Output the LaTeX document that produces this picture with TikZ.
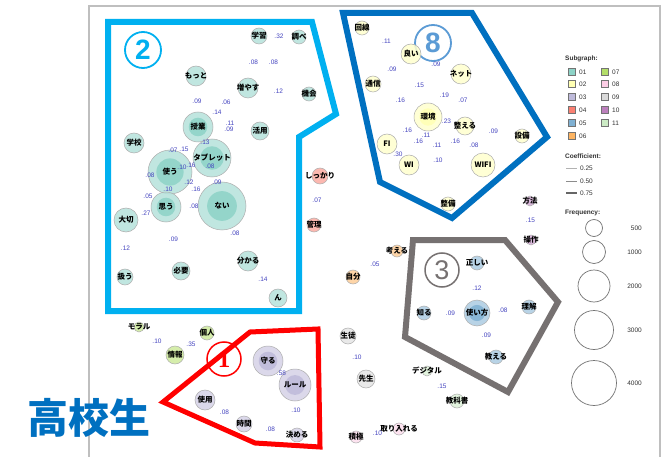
\documentclass[tikz,border=0pt]{standalone}
\usepackage{fontspec}
\setmainfont{Liberation Sans}
\newfontfamily\jp{Noto Sans CJK JP}
\newfontfamily\numserif{Liberation Serif}
\usetikzlibrary{backgrounds}
\definecolor{c01}{HTML}{8DD3C7}
\definecolor{c02}{HTML}{FFFFB3}
\definecolor{c03}{HTML}{BEBADA}
\definecolor{c04}{HTML}{FB8072}
\definecolor{c05}{HTML}{80B1D3}
\definecolor{c06}{HTML}{FDB462}
\definecolor{c07}{HTML}{B3DE69}
\definecolor{c08}{HTML}{FCCDE5}
\definecolor{c09}{HTML}{D9D9D9}
\definecolor{c10}{HTML}{BC80BD}
\definecolor{c11}{HTML}{CCEBC5}
\definecolor{elc}{HTML}{4646C0}
\definecolor{gTwo}{HTML}{00B0F0}
\definecolor{gEight}{HTML}{0070C0}
\definecolor{gEightN}{HTML}{5B9BD5}
\definecolor{gThree}{HTML}{767171}
\definecolor{gOne}{HTML}{FF0000}
\definecolor{kblue}{HTML}{0070C0}
\newcommand\lblfont{\jp\bfseries\fontsize{7.5}{8}\selectfont}
\newcommand\elfont{\fontsize{6.5}{7}\selectfont}
\newcommand\lgfont{\fontsize{6.5}{7}\selectfont}
\newcommand\edg[4][0.5]{%
  \begin{pgfonlayer}{background}\draw[edgeline] (#2.center) -- (#3.center);\end{pgfonlayer}%
  \path (#2.center) -- node[el, pos=#1]{#4} (#3.center);}
\tikzset{
  nd/.style={circle, draw=black!32, line width=0.5pt, fill=#1!65!white, fill opacity=0.85, inner sep=0pt, outer sep=0pt},
  core/.style={path picture={\fill[#1] (path picture bounding box.center) circle (0.62*\pgfkeysvalueof{/pgf/minimum width}/2);}},
  every label/.style={font=\lblfont, text=black, inner sep=0pt, fill opacity=1, text opacity=1},
  el/.style={font=\elfont, text=elc, inner sep=0.3pt},
  edgeline/.style={draw=black!20, line width=0.8pt},
  grp/.style={line width=6pt, line join=miter, draw=#1},
  num/.style={circle, draw=#1, text=#1, line width=1.8pt, inner sep=0pt},
  sw/.style={rectangle, draw=black!55, line width=0.5pt, fill=#1, minimum size=7pt, inner sep=0pt},
  lg/.style={font=\lgfont, text=black!80, anchor=west, inner sep=0pt},
  fq/.style={circle, draw=black!55, line width=0.7pt, inner sep=0pt},
}
\begin{document}
\begin{tikzpicture}[x=1pt,y=-1pt]
\useasboundingbox (0,0) rectangle (669,457);
\clip (0,0) rectangle (669,457);
\fill[white] (0,0) rectangle (669,457);
% frame
\draw[draw=black!25, line width=1.3pt] (89,6) rectangle (660,475);

% group polygons
\draw[grp=gTwo] (108,22) -- (312,22) -- (336,114) -- (299,137) -- (299,311) -- (108,311) -- cycle;
\draw[grp=gEight] (343,13) -- (472,13) -- (547,137) -- (452,218) -- (380,182) -- cycle;
\draw[grp=gThree] (413,240) -- (505,240) -- (558,302) -- (508,392) -- (405,337) -- cycle;
\draw[grp=gOne, line width=5pt] (250,332) -- (318,329) -- (320,447) -- (255,443) -- (163,402) -- cycle;

% circled numbers
\node[num=gTwo, minimum size=36pt, font=\bfseries\fontsize{28}{28}\selectfont] (numTwo) at (143,50) {2};
\node[num=gEightN, minimum size=36pt, font=\bfseries\fontsize{28}{28}\selectfont] (numEight) at (433,43) {8};
\node[num=gThree, minimum size=34pt, line width=1.5pt, font=\fontsize{27}{27}\selectfont] (numThree) at (442,270) {3};
\node[num=gOne, minimum size=34pt, line width=1.5pt, font=\numserif\bfseries\fontsize{25}{25}\selectfont] (numOne) at (224,359) {1};

% subgraph 01
\node[nd=c01, minimum size=16pt, label={center:学習}] (gakushu) at (259,36) {};
\node[nd=c01, minimum size=14pt, label={center:調べ}] (shirabe) at (299,37) {};
\node[nd=c01, minimum size=20pt, label={center:増やす}] (fuyasu) at (248,88) {};
\node[nd=c01, minimum size=14pt, label={center:機会}] (kikai) at (309,94) {};
\node[nd=c01, minimum size=20pt, label={center:もっと}] (motto) at (196,76) {};
\node[nd=c01, minimum size=30pt, core=c01, label={center:授業}] (jugyo) at (198,127) {};
\node[nd=c01, minimum size=18pt, label={center:活用}] (katsuyo) at (260,131) {};
\node[nd=c01, minimum size=20pt, label={center:学校}] (gakko) at (134,143) {};
\node[nd=c01, minimum size=38pt, core=c01, label={center:タブレット}] (tablet) at (212,158) {};
\node[nd=c01, minimum size=44pt, core=c01, label={center:使う}] (tsukau) at (170,172) {};
\node[nd=c01, minimum size=30pt, core=c01, label={center:思う}] (omou) at (166,207) {};
\node[nd=c01, minimum size=48pt, core=c01, label={center:ない}] (nai) at (222,206) {};
\node[nd=c01, minimum size=24pt, label={center:大切}] (taisetsu) at (126,220) {};
\node[nd=c01, minimum size=16pt, label={center:扱う}] (atsukau) at (125,277) {};
\node[nd=c01, minimum size=18pt, label={center:必要}] (hitsuyo) at (181,271) {};
\node[nd=c01, minimum size=20pt, label={center:分かる}] (wakaru) at (248,261) {};
\node[nd=c01, minimum size=18pt, label={center:ん}] (nn) at (278,298) {};

% subgraph 02
\node[nd=c02, minimum size=14pt, label={center:回線}] (kaisen) at (362,28) {};
\node[nd=c02, minimum size=20pt, label={center:良い}] (yoi) at (411,54) {};
\node[nd=c02, minimum size=16pt, label={center:通信}] (tsushin) at (373,84) {};
\node[nd=c02, minimum size=20pt, label={center:ネット}] (net) at (461,74) {};
\node[nd=c02, minimum size=28pt, core=c02, label={center:環境}] (kankyo) at (428,117) {};
\node[nd=c02, minimum size=18pt, label={center:整える}] (totonoeru) at (465,126) {};
\node[nd=c02, minimum size=14pt, label={center:設備}] (setsubi) at (522,136) {};
\node[nd=c02, minimum size=20pt, label={center:FI}] (fi) at (387,144) {};
\node[nd=c02, minimum size=20pt, label={center:WI}] (wi) at (409,165) {};
\node[nd=c02, minimum size=24pt, label={center:WIFI}] (wifi) at (483,165) {};
\node[nd=c02, minimum size=14pt, label={center:整備}] (seibi) at (448,204) {};

% subgraph 05
\node[nd=c05, minimum size=14pt, label={center:正しい}] (tadashii) at (477,263) {};
\node[nd=c05, minimum size=26pt, core=c05, label={center:使い方}] (tsukaikata) at (477,313) {};
\node[nd=c05, minimum size=14pt, label={center:知る}] (shiru) at (424,313) {};
\node[nd=c05, minimum size=14pt, label={center:理解}] (rikai) at (529,307) {};
\node[nd=c05, minimum size=14pt, label={center:教える}] (oshieru) at (496,357) {};

% small groups
\node[nd=c10, minimum size=10pt, label={center:方法}] (hoho) at (530,201) {};
\node[nd=c10, minimum size=10pt, label={center:操作}] (sosa) at (531,240) {};
\node[nd=c11, minimum size=10pt, label={center:デジタル}] (digital) at (427,371) {};
\node[nd=c11, minimum size=14pt, label={center:教科書}] (kyokasho) at (457,401) {};
\node[nd=c04, minimum size=16pt, label={center:しっかり}] (shikkari) at (320,176) {};
\node[nd=c04, minimum size=14pt, label={center:管理}] (kanri) at (314,225) {};
\node[nd=c06, minimum size=12pt, label={center:考える}] (kangaeru) at (397,251) {};
\node[nd=c06, minimum size=14pt, label={center:自分}] (jibun) at (353,277) {};
\node[nd=c09, minimum size=16pt, label={center:生徒}] (seito) at (348,336) {};
\node[nd=c09, minimum size=18pt, label={center:先生}] (sensei) at (366,379) {};
\node[nd=c08, minimum size=12pt, label={center:取り入れる}] (toriireru) at (399,429) {};
\node[nd=c08, minimum size=12pt, label={center:積極}] (sekkyoku) at (356,437) {};
\node[nd=c07, minimum size=10pt, label={center:モラル}] (moral) at (139,327) {};
\node[nd=c07, minimum size=14pt, label={center:個人}] (kojin) at (207,333) {};
\node[nd=c07, minimum size=18pt, label={center:情報}] (joho) at (175,355) {};

% subgraph 03
\node[nd=c03, minimum size=30pt, core=c03, label={center:守る}] (mamoru) at (268,361) {};
\node[nd=c03, minimum size=32pt, core=c03, label={center:ルール}] (rule) at (295,385) {};
\node[nd=c03, minimum size=20pt, label={center:使用}] (shiyo) at (205,400) {};
\node[nd=c03, minimum size=16pt, label={center:時間}] (jikan) at (244,424) {};
\node[nd=c03, minimum size=14pt, label={center:決める}] (kimeru) at (297,435) {};

% edges 01
\edg{gakushu}{shirabe}{.32}
\edg{gakushu}{fuyasu}{.08}
\edg{shirabe}{fuyasu}{.08}
\edg{fuyasu}{kikai}{.12}
\edg{motto}{jugyo}{.09}
\edg[0.47]{motto}{katsuyo}{.06}
\edg[0.62]{fuyasu}{jugyo}{.14}
\edg{fuyasu}{tablet}{.11}
\edg{jugyo}{katsuyo}{.09}
\edg{gakko}{tablet}{.07}
\edg{gakko}{omou}{.08}
\edg{jugyo}{tsukau}{.15}
\edg{jugyo}{tablet}{.13}
\edg{jugyo}{omou}{.10}
\edg{tsukau}{tablet}{.16}
\edg{jugyo}{nai}{.08}
\edg{omou}{tablet}{.12}
\edg{tsukau}{nai}{.16}
\edg{tablet}{nai}{.09}
\edg{tsukau}{omou}{.10}
\edg{taisetsu}{tsukau}{.05}
\edg{taisetsu}{omou}{.27}
\edg{omou}{nai}{.08}
\edg{taisetsu}{atsukau}{.12}
\edg{omou}{hitsuyo}{.09}
\edg{nai}{wakaru}{.08}
\edg{wakaru}{nn}{.14}

% edges 02
\edg{kaisen}{yoi}{.11}
\edg{yoi}{tsushin}{.09}
\edg{yoi}{net}{.09}
\edg{yoi}{kankyo}{.15}
\edg{tsushin}{kankyo}{.16}
\edg{net}{kankyo}{.19}
\edg{net}{totonoeru}{.07}
\edg{kankyo}{totonoeru}{.23}
\edg{totonoeru}{setsubi}{.09}
\edg{kankyo}{fi}{.16}
\edg{fi}{wi}{.30}
\edg{kankyo}{wi}{.16}
\edg{totonoeru}{fi}{.11}
\edg{totonoeru}{wi}{.11}
\edg{kankyo}{wifi}{.16}
\edg{totonoeru}{wifi}{.08}
\edg{kankyo}{seibi}{.10}

% edges 05 and others
\edg{tadashii}{tsukaikata}{.12}
\edg{shiru}{tsukaikata}{.09}
\edg{tsukaikata}{rikai}{.08}
\edg{tsukaikata}{oshieru}{.09}
\edg{hoho}{sosa}{.15}
\edg{digital}{kyokasho}{.15}
\edg{shikkari}{kanri}{.07}
\edg{kangaeru}{jibun}{.05}
\edg{seito}{sensei}{.10}
\edg{sekkyoku}{toriireru}{.10}
\edg{moral}{joho}{.10}
\edg{joho}{kojin}{.35}
\edg{mamoru}{rule}{.58}
\edg{rule}{kimeru}{.10}
\edg{shiyo}{jikan}{.08}
\edg{jikan}{kimeru}{.08}

% title
\node[font=\jp\bfseries\fontsize{41}{41}\selectfont, text=kblue, inner sep=0pt] (koukousei) at (89,418) {高校生};

% legend
\node[lg, font=\lgfont\bfseries] (lsub) at (565,59) {Subgraph:};
\foreach \c/\xx/\yy in {01/572/72,02/572/84,03/572/97,04/572/110,05/572/123,06/572/136,07/605/72,08/605/84,09/605/97,10/605/110,11/605/123}{
  \node[sw=c\c] (sw\c) at (\xx,\yy) {};
  \node[lg] (swl\c) at (\xx+7,\yy) {\c};
}
\node[lg, font=\lgfont\bfseries] (lcoef) at (565,156) {Coefficient:};
\coordinate (ca1) at (566,168); \coordinate (cb1) at (577,168);
\coordinate (ca2) at (566,181); \coordinate (cb2) at (577,181);
\coordinate (ca3) at (566,193); \coordinate (cb3) at (577,193);
\draw[black!30, line width=0.6pt] (ca1) -- (cb1);
\draw[black!45, line width=0.9pt] (ca2) -- (cb2);
\draw[black!60, line width=1.2pt] (ca3) -- (cb3);
\node[lg] (lc1) at (580,168) {0.25};
\node[lg] (lc2) at (580,181) {0.50};
\node[lg] (lc3) at (580,193) {0.75};
\node[lg, font=\lgfont\bfseries] (lfreq) at (565,213) {Frequency:};
\node[fq, minimum size=17pt] (f1) at (594,228) {};
\node[fq, minimum size=23pt] (f2) at (594,252) {};
\node[fq, minimum size=32pt] (f3) at (594,286) {};
\node[fq, minimum size=39pt] (f4) at (594,330) {};
\node[fq, minimum size=45pt] (f5) at (594,383) {};
\node[lg, anchor=east] (lf1) at (642,228) {500};
\node[lg, anchor=east] (lf2) at (642,252) {1000};
\node[lg, anchor=east] (lf3) at (642,286) {2000};
\node[lg, anchor=east] (lf4) at (642,330) {3000};
\node[lg, anchor=east] (lf5) at (642,383) {4000};
\end{tikzpicture}
\end{document}
